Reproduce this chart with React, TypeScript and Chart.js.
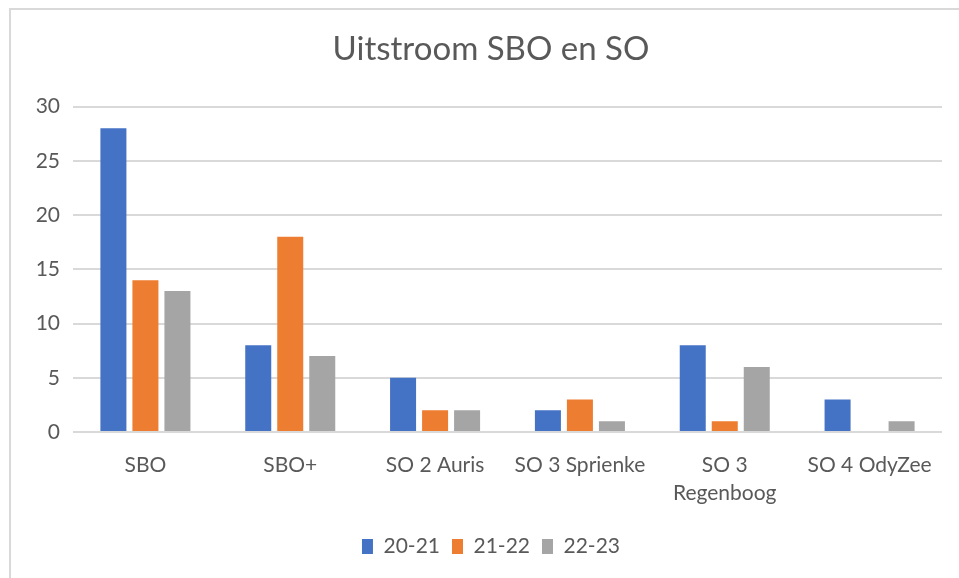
import React, { useEffect, useRef } from "react";
import { Chart, registerables } from "chart.js";

Chart.register(...registerables);

const categories: (string | string[])[] = [
  "SBO",
  "SBO+",
  "SO 2 Auris",
  "SO 3 Sprienke",
  ["SO 3", "Regenboog"],
  "SO 4 OdyZee",
];
const series2021: (number | null)[] = [28, 8, 5, 2, 8, 3];
const series2122: (number | null)[] = [14, 18, 2, 3, 1, null];
const series2223: (number | null)[] = [13, 7, 2, 1, 6, 1];
const seriesLabels = ["20-21", "21-22", "22-23"];
const chartTitle = "Uitstroom SBO en SO";

const FONT = "Lato, 'Open Sans', sans-serif";
const TEXT = "#595959";
const GRID = "#d9d9d9";

export default function App() {
  const ref = useRef<HTMLCanvasElement | null>(null);
  useEffect(() => {
    if (!ref.current) return;
    const chart = new Chart(ref.current, {
      type: "bar",
      data: {
        labels: categories,
        datasets: [
          { label: seriesLabels[0], data: series2021, backgroundColor: "#4472C4" },
          { label: seriesLabels[1], data: series2122, backgroundColor: "#ED7D31" },
          { label: seriesLabels[2], data: series2223, backgroundColor: "#A5A5A5" },
        ],
      },
      options: {
        animation: false,
        responsive: false,
        maintainAspectRatio: false,
        layout: { padding: { left: 0, right: 0, top: 0, bottom: 11 } },
        datasets: {
          bar: { categoryPercentage: 0.663, barPercentage: 0.8125 },
        },
        plugins: {
          title: {
            display: true,
            text: chartTitle,
            color: TEXT,
            font: { family: FONT, size: 33, weight: "normal" },
            padding: { top: 21, bottom: 37 },
          },
          legend: {
            position: "bottom",
            labels: {
              color: TEXT,
              font: { family: FONT, size: 21 },
              boxWidth: 11,
              boxHeight: 15,
              padding: 12,
            },
          },
          tooltip: { enabled: false },
        },
        scales: {
          x: {
            grid: { display: false, drawTicks: false },
            border: { display: false },
            ticks: {
              color: TEXT,
              font: { family: FONT, size: 21, lineHeight: 1.33 },
              padding: 19,
              maxRotation: 0,
              autoSkip: false,
            },
            afterFit: (s: any) => {
              s.height = 92;
            },
          },
          y: {
            min: 0,
            max: 30,
            ticks: {
              stepSize: 5,
              color: TEXT,
              font: { family: FONT, size: 21 },
              padding: 13,
            },
            grid: { color: GRID, lineWidth: 2, drawTicks: false },
            border: { display: false },
            afterFit: (s: any) => {
              s.width = 63;
            },
          },
          spacer: {
            type: "linear",
            position: "right",
            display: true,
            ticks: { display: false },
            grid: { display: false, drawTicks: false },
            border: { display: false },
            afterFit: (s: any) => {
              s.width = 30;
            },
          },
        },
      },
    });
    return () => chart.destroy();
  }, []);

  return (
    <div
      style={{
        position: "fixed",
        left: 0,
        top: 0,
        width: 959,
        height: 578,
        overflow: "hidden",
        background: "#fff",
      }}
    >
      <div
        style={{
          position: "absolute",
          left: 9,
          top: 8,
          width: 970,
          height: 600,
          borderTop: "2px solid #d9d9d9",
          borderLeft: "2px solid #d9d9d9",
        }}
      />
      <canvas
        ref={ref}
        width={962}
        height={569}
        style={{ position: "absolute", left: 10, top: 9, width: 962, height: 569 }}
      />
    </div>
  );
}
